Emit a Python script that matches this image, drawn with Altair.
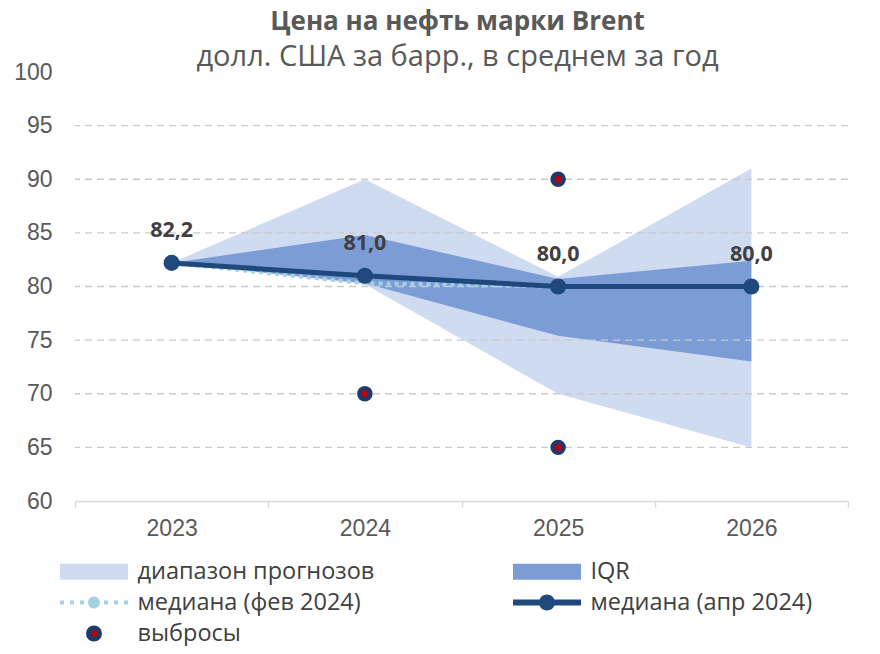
import altair as alt
import pandas as pd

# ---------------- data ----------------
years = ["2023", "2024", "2025", "2026"]
range_min = [82.2, 80.2, 70.0, 65.0]
range_max = [82.2, 90.0, 80.9, 91.0]
iqr_low = [82.2, 80.3, 75.4, 73.0]
iqr_high = [82.2, 84.8, 80.7, 82.4]
median_feb = [82.2, 80.3, 80.0, 80.0]
median_apr = [82.2, 81.0, 80.0, 80.0]
median_labels = ["82,2", "81,0", "80,0", "80,0"]

outlier_years = ["2024", "2025", "2025"]
outlier_values = [70.0, 90.0, 65.0]

y_ticks = [60, 65, 70, 75, 80, 85, 90, 95, 100]
grid_values = [65, 70, 75, 80, 85, 90, 95]

series_names = ["диапазон прогнозов", "IQR", "медиана (фев 2024)",
                "медиана (апр 2024)", "выбросы"]

# ---------------- style ----------------
C_RANGE = "#CFDBF1"
C_IQR = "#7C9CD6"
C_FEB = "#A3D3E2"
C_APR = "#1F497D"
C_OUT_RING = "#22386A"
C_OUT_CORE = "#C00000"
C_TEXT = "#595959"
C_LABEL = "#404040"

FONT_AX = "Liberation Sans"
FONT_TX = "Open Sans"

df = pd.DataFrame({
    "year": years,
    "rmin": range_min, "rmax": range_max,
    "qlo": iqr_low, "qhi": iqr_high,
    "feb": median_feb, "apr": median_apr,
    "lab": median_labels,
})
out_df = pd.DataFrame({"year": outlier_years, "v": outlier_values})
grid_df = pd.DataFrame({"v": grid_values})
leg_df = pd.DataFrame({"series": series_names})

x_axis = alt.Axis(title=None, labelAngle=0, labelFont=FONT_AX, labelFontSize=23,
                  labelColor=C_TEXT, labelPadding=10, tickBand="extent",
                  ticks=True, tickSize=6, tickColor="#D9D9D9", tickWidth=1.5,
                  domainColor="#D9D9D9", domainWidth=1.5, grid=False)
y_axis = alt.Axis(title=None, values=y_ticks, labelFont=FONT_AX, labelFontSize=23,
                  labelColor=C_TEXT, labelPadding=23, ticks=False, domain=False,
                  grid=False)


def X():
    return alt.X("year:O", bandPosition=0.5,
                 scale=alt.Scale(type="band", domain=years, paddingInner=0, paddingOuter=0),
                 axis=x_axis)


def Y(field):
    return alt.Y(field, scale=alt.Scale(domain=[60, 100], nice=False, zero=False),
                 axis=y_axis)


range_area = alt.Chart(df).mark_area(color=C_RANGE, opacity=1).encode(
    x=X(), y=Y("rmin:Q"), y2="rmax:Q")
iqr_area = alt.Chart(df).mark_area(color=C_IQR, opacity=1).encode(
    x=X(), y=Y("qlo:Q"), y2="qhi:Q")
grid = alt.Chart(grid_df).mark_rule(color="#CACACA", strokeWidth=1.3,
                                    strokeDash=[7, 5]).encode(y=Y("v:Q"))
feb_line = alt.Chart(df).mark_line(color=C_FEB, strokeWidth=4, strokeDash=[4, 4]).encode(
    x=X(), y=Y("feb:Q"))
apr_line = alt.Chart(df).mark_line(color=C_APR, strokeWidth=5).encode(
    x=X(), y=Y("apr:Q"))
apr_pts = alt.Chart(df).mark_point(filled=True, shape="circle", size=260, color=C_APR,
                                   opacity=1).encode(x=X(), y=Y("apr:Q"))
labels = alt.Chart(df).mark_text(font=FONT_TX, fontWeight="bold", fontSize=21.5,
                                 color=C_LABEL, dy=-32).encode(
    x=X(), y=Y("apr:Q"), text="lab:N")
out_ring = alt.Chart(out_df).mark_point(filled=True, shape="circle", size=240,
                                        color=C_OUT_RING, opacity=1).encode(
    x=X(), y=Y("v:Q"))
out_core = alt.Chart(out_df).mark_point(filled=True, shape="circle", size=40,
                                        color=C_OUT_CORE, opacity=1).encode(
    x=X(), y=Y("v:Q"))

# legend symbols (custom paths, unit = 10px with symbolSize 400)
P_RECT = "M-3.4,-0.8H3.4V0.8H-3.4Z"
P_APR = ("M-3.4,-0.3H3.4V0.3H-3.4Z "
         "M-0.8,0A0.8,0.8,0,1,1,0.8,0A0.8,0.8,0,1,1,-0.8,0Z")
P_FEB = ("M-3.4,-0.2H-3.0V0.2H-3.4Z M-2.4,-0.2H-2.0V0.2H-2.4Z "
         "M-1.4,-0.2H-1.0V0.2H-1.4Z M1.0,-0.2H1.4V0.2H1.0Z "
         "M2.0,-0.2H2.4V0.2H2.0Z M3.0,-0.2H3.4V0.2H3.0Z "
         "M-0.6,0A0.6,0.6,0,1,1,0.6,0A0.6,0.6,0,1,1,-0.6,0Z")
P_OUT = "M-0.55,0A0.55,0.55,0,1,1,0.55,0A0.55,0.55,0,1,1,-0.55,0Z"

fills = [C_RANGE, C_IQR, C_FEB, C_APR, C_OUT_CORE]
strokes = ["transparent", "transparent", "transparent", "transparent", C_OUT_RING]
shapes = [P_RECT, P_RECT, P_FEB, P_APR, P_OUT]

LEG = alt.Legend(orient="none", legendX=-15, legendY=487, columns=2, direction="horizontal",
                 title=None,
                 symbolSize=400, symbolStrokeWidth=5, symbolOffset=21.5,
                 labelOffset=31, labelFont=FONT_TX, labelFontSize=23.5,
                 labelColor=C_LABEL, labelLimit=0, rowPadding=-6, columnPadding=128,
                 padding=0, symbolOpacity=1, symbolFillColor="#000000",
                 symbolStrokeColor="#000000")

legend_layer = alt.Chart(leg_df).transform_filter("false").mark_point(
    filled=True, opacity=1, size=400).encode(
    fill=alt.Fill("series:N", scale=alt.Scale(domain=series_names, range=fills), legend=LEG),
    stroke=alt.Stroke("series:N", scale=alt.Scale(domain=series_names, range=strokes), legend=LEG),
    shape=alt.Shape("series:N", scale=alt.Scale(domain=series_names, range=shapes), legend=LEG),
)

chart = alt.layer(
    range_area, iqr_area, grid, feb_line, apr_line, apr_pts, labels,
    out_ring, out_core, legend_layer
).properties(
    width=773, height=429,
    title=alt.TitleParams(
        text="Цена на нефть марки Brent",
        subtitle="долл. США за барр., в среднем за год",
        font=FONT_TX, fontSize=26, fontWeight="bold", color=C_TEXT,
        subtitleFont=FONT_TX, subtitleFontSize=29, subtitleColor=C_TEXT,
        anchor="middle", frame="group", offset=-11, subtitlePadding=8, dx=-4,
    ),
    autosize=alt.AutoSizeParams(type="none"),
    padding={"left": 67, "top": 64, "right": 24, "bottom": 145},
).configure_view(stroke=None)

chart.save("out.html", embed_options={"renderer": "svg", "actions": False})
